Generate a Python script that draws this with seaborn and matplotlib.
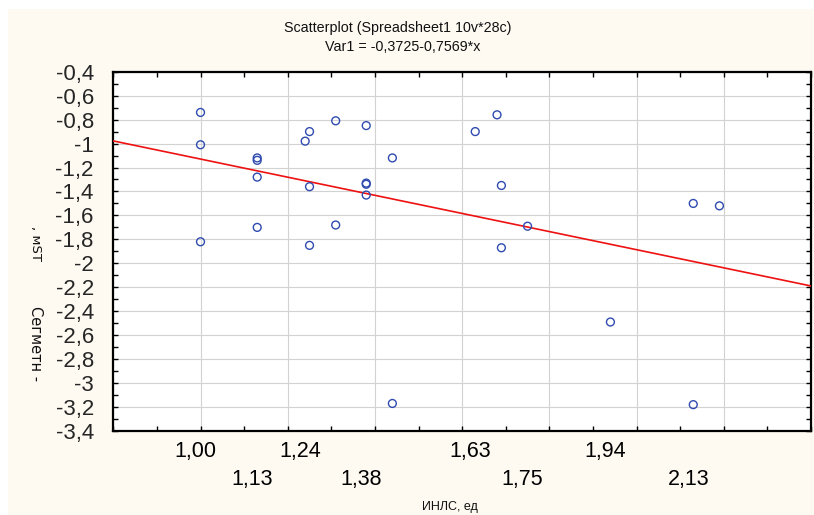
import numpy as np
import pandas as pd
import seaborn as sns
import matplotlib
matplotlib.use("Agg")
import matplotlib.pyplot as plt
import matplotlib.transforms as mtransforms
from matplotlib.patches import Rectangle
from matplotlib.ticker import MultipleLocator, FixedLocator, FuncFormatter

# Observations: INLS index vs. ST segment shift
inls = [1.00, 1.00, 1.00, 1.13, 1.13, 1.13, 1.13, 1.25, 1.24, 1.25, 1.25,
        1.31, 1.31, 1.38, 1.38, 1.38, 1.38, 1.44, 1.44, 1.63, 1.68, 1.69,
        1.75, 1.69, 1.94, 2.13, 2.19, 2.13]
st_segment = [-0.74, -1.01, -1.82, -1.12, -1.14, -1.28, -1.70, -0.90, -0.98,
              -1.36, -1.85, -0.81, -1.68, -0.85, -1.33, -1.34, -1.43, -1.12,
              -3.17, -0.90, -0.76, -1.35, -1.69, -1.87, -2.49, -1.50, -1.52,
              -3.18]

# Fitted regression: Var1 = intercept + slope * x
intercept = -0.3725
slope = -0.7569

# Value labels under the x axis (two staggered rows)
x_labels_upper = [1.00, 1.24, 1.63, 1.94]
x_labels_lower = [1.13, 1.38, 1.75, 2.13]

y_ticks = [-0.4, -0.6, -0.8, -1.0, -1.2, -1.4, -1.6, -1.8, -2.0, -2.2, -2.4,
           -2.6, -2.8, -3.0, -3.2, -3.4]

title_text = "Scatterplot (Spreadsheet1 10v*28c)"
equation_text = "Var1 = -0,3725-0,7569*x"
x_title = "ИНЛС, ед"

sns.set_style("white")
plt.rcParams["font.family"] = ["Liberation Sans", "DejaVu Sans"]

W, H, DPI = 814, 515, 100
fig = plt.figure(figsize=(W / DPI, H / DPI), dpi=DPI)
fig.patch.set_facecolor("white")
fig.patches.append(Rectangle((8 / W, 0), 1 - 8 / W, 1 - 9 / H,
                             transform=fig.transFigure, facecolor="#fefaf2",
                             edgecolor="none", zorder=-10))

ax_l, ax_r, ax_t, ax_b = 113.3, 811.0, 71.7, 431.0
ax = fig.add_axes([ax_l / W, 1 - ax_b / H, (ax_r - ax_l) / W, (ax_b - ax_t) / H])
ax.set_facecolor("white")

df = pd.DataFrame({"inls": inls, "st": st_segment})

xmin, xmax = 0.8, 2.4
ymin, ymax = -3.4, -0.4

# regression line across the full axis width
line_x = np.array([xmin, xmax])
sns.lineplot(x=line_x, y=intercept + slope * line_x, ax=ax, color="#ee1111",
             linewidth=1.2, zorder=3)

sns.scatterplot(data=df, x="inls", y="st", ax=ax, marker="o", s=32,
                facecolor="none", edgecolor="#2f4bb0", linewidth=1.0,
                zorder=4)

ax.set_xlim(xmin, xmax)
ax.set_ylim(ymin, ymax)

# axes, ticks and grid
ax.xaxis.set_major_locator(MultipleLocator(0.2))
ax.xaxis.set_minor_locator(MultipleLocator(0.1))
ax.yaxis.set_major_locator(FixedLocator(y_ticks))
ax.yaxis.set_minor_locator(MultipleLocator(0.1))
ax.yaxis.set_major_formatter(FuncFormatter(lambda v, p: f"{v:g}".replace(".", ",")))
ax.xaxis.set_major_formatter(FuncFormatter(lambda v, p: ""))
ax.tick_params(which="both", direction="in", length=3.5, width=1.0,
               top=True, right=True, bottom=True, left=True, color="black")
ax.tick_params(axis="y", which="major", labelsize=16, pad=14)
ax.grid(True, which="major", color="#d2d2d2", linewidth=0.8, zorder=0)
ax.set_axisbelow(True)
for sp in ax.spines.values():
    sp.set_visible(True)
    sp.set_color("black")
    sp.set_linewidth(1.6)
ax.set_xlabel("")
ax.set_ylabel("")

# staggered value labels below the axis
base = mtransforms.blended_transform_factory(ax.transData, ax.transAxes)
for vals, dy in ((x_labels_upper, -21), (x_labels_lower, -48)):
    tr = base + mtransforms.ScaledTranslation(-5 / DPI, dy / DPI, fig.dpi_scale_trans)
    for v in vals:
        ax.text(v, 0, f"{v:.2f}".replace(".", ","), transform=tr,
                ha="center", va="center", fontsize=15.5, color="black")

# titles
fig.text(398 / W, 1 - 28 / H, title_text, ha="center", va="center",
         fontsize=10.3, color="#111111")
fig.text(403 / W, 1 - 47 / H, equation_text, ha="center", va="center",
         fontsize=10.3, color="#111111")
fig.text(450 / W, 1 - 507 / H, x_title, ha="center", va="center",
         fontsize=9, color="#111111")

# vertical axis caption
fig.text(35 / W, 1 - 226 / H, ", мST", rotation=-90, ha="center", va="top",
         fontsize=9.5, color="#111111", family=["DejaVu Sans"])
fig.text(35 / W, 1 - 344 / H, "Сегметн -", rotation=-90, ha="center",
         va="center", fontsize=10.5, color="#111111", family=["DejaVu Sans"])

fig.savefig("out.png", dpi=DPI, facecolor=fig.get_facecolor())
